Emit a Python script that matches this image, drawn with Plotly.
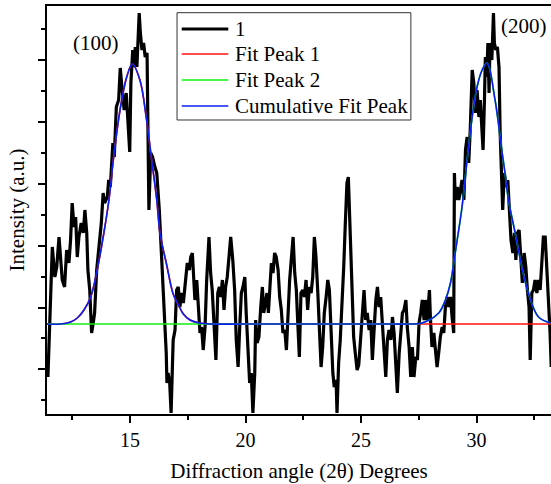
import plotly.graph_objects as go

# measured XRD pattern (2theta in degrees, intensity in arbitrary units)
angle = [
    11.45, 11.64, 11.75, 11.83, 11.93, 12.00, 12.07, 12.17, 12.26, 12.36,
    12.43, 12.50, 12.58, 12.65, 12.72, 12.79, 12.89, 12.98, 13.05, 13.13,
    13.18, 13.26, 13.30, 13.34, 13.41, 13.47, 13.56, 13.66, 13.76, 13.84,
    13.90, 14.02, 14.08, 14.15, 14.26, 14.32, 14.41, 14.51, 14.58, 14.65,
    14.75, 14.84, 14.91, 14.99, 15.04, 15.12, 15.19, 15.23, 15.30, 15.35,
    15.40, 15.45, 15.52, 15.59, 15.66, 15.74, 15.79, 15.82, 15.90, 15.98,
    16.08, 16.16, 16.27, 16.36, 16.43, 16.49, 16.57, 16.60, 16.65, 16.72,
    16.78, 16.87, 16.95, 17.02, 17.09, 17.16, 17.24, 17.31, 17.38, 17.48,
    17.57, 17.63, 17.70, 17.74, 17.81, 17.89, 17.96, 18.03, 18.10, 18.17,
    18.25, 18.32, 18.42, 18.49, 18.56, 18.65, 18.72, 18.80, 18.87, 18.93,
    19.00, 19.07, 19.14, 19.21, 19.30, 19.36, 19.45, 19.53, 19.60, 19.68,
    19.75, 19.82, 19.89, 19.97, 20.03, 20.11, 20.18, 20.25, 20.32, 20.40,
    20.44, 20.50, 20.58, 20.66, 20.73, 20.79, 20.86, 20.93, 20.99, 21.05,
    21.12, 21.19, 21.26, 21.33, 21.41, 21.48, 21.55, 21.62, 21.70, 21.77,
    21.84, 21.91, 21.98, 22.06, 22.13, 22.20, 22.27, 22.33, 22.40, 22.48,
    22.55, 22.62, 22.69, 22.76, 22.84, 22.91, 22.98, 23.05, 23.13, 23.20,
    23.27, 23.34, 23.41, 23.49, 23.56, 23.63, 23.70, 23.78, 23.84, 23.92,
    23.96, 24.03, 24.10, 24.18, 24.25, 24.32, 24.39, 24.45, 24.52, 24.61,
    24.68, 24.75, 24.83, 24.90, 24.99, 25.06, 25.13, 25.20, 25.27, 25.35,
    25.42, 25.49, 25.56, 25.64, 25.71, 25.78, 25.85, 25.92, 26.00, 26.07,
    26.14, 26.21, 26.29, 26.36, 26.43, 26.50, 26.57, 26.65, 26.72, 26.79,
    26.86, 26.94, 27.00, 27.08, 27.15, 27.22, 27.29, 27.37, 27.44, 27.51,
    27.58, 27.65, 27.73, 27.78, 27.86, 27.96, 28.00, 28.07, 28.15, 28.22,
    28.29, 28.36, 28.43, 28.51, 28.58, 28.65, 28.72, 28.80, 28.87, 28.94,
    29.01, 29.04, 29.08, 29.16, 29.23, 29.30, 29.37, 29.45, 29.52, 29.59,
    29.66, 29.73, 29.81, 29.88, 29.95, 30.02, 30.10, 30.16, 30.24, 30.28,
    30.34, 30.38, 30.44, 30.49, 30.54, 30.58, 30.66, 30.73, 30.77, 30.83,
    30.90, 30.97, 31.02, 31.09, 31.13, 31.20, 31.28, 31.35, 31.42, 31.49,
    31.57, 31.64, 31.70, 31.77, 31.84, 31.91, 31.98, 32.06, 32.13, 32.20,
    32.27, 32.32, 32.39, 32.46, 32.53, 32.61, 32.68, 32.75, 32.82, 32.89,
    32.97, 33.04, 33.11, 33.18, 33.23,
]
intensity = [
    54, 184, 154, 164, 194, 171, 151, 144, 181, 168,
    191, 228, 204, 214, 174, 194, 208, 198, 221, 198,
    161, 141, 118, 98, 108, 118, 161, 181, 208, 238,
    228, 234, 251, 244, 288, 274, 324, 331, 363, 344,
    321, 338, 314, 279, 348, 381, 364, 384, 364, 391,
    418, 398, 381, 388, 374, 378, 278, 221, 278, 274,
    264, 258, 221, 178, 148, 114, 78, 48, 58, 48,
    18, 91, 101, 141, 144, 124, 138, 128, 144, 168,
    161, 174, 178, 164, 131, 151, 124, 98, 104, 81,
    104, 151, 194, 158, 141, 108, 71, 138, 144, 134,
    151, 121, 144, 154, 181, 194, 171, 141, 91, 64,
    104, 138, 144, 154, 118, 78, 48, 58, 18, 58,
    111, 88, 94, 124, 144, 118, 131, 138, 118, 148,
    168, 158, 178, 174, 161, 134, 121, 98, 101, 81,
    118, 151, 171, 194, 158, 141, 104, 74, 138, 141,
    134, 151, 121, 144, 138, 154, 194, 174, 138, 98,
    64, 84, 118, 134, 151, 141, 91, 58, 44, 51,
    18, 68, 91, 124, 164, 208, 248, 254, 208, 144,
    94, 78, 61, 66, 98, 118, 141, 111, 118, 101,
    111, 71, 104, 131, 144, 124, 134, 104, 84, 54,
    91, 101, 91, 114, 98, 71, 38, 78, 94, 118,
    121, 131, 104, 84, 54, 84, 54, 74, 71, 108,
    118, 131, 111, 131, 111, 141, 114, 84, 98, 78,
    64, 78, 94, 104, 98, 124, 134, 124, 134, 114,
    98, 258, 231, 244, 231, 241, 251, 231, 281, 294,
    268, 304, 361, 348, 318, 341, 314, 331, 298, 281,
    331, 374, 354, 388, 338, 388, 371, 418, 388, 381,
    384, 364, 298, 258, 221, 258, 244, 251, 218, 191,
    178, 198, 171, 198, 201, 178, 148, 178, 164, 141,
    124, 71, 138, 141, 151, 138, 151, 141, 168, 194,
    194, 164, 124, 98, 64,
]

# fitted curves
fit_angle = [
    11.41, 12.00, 12.43, 12.72, 13.01, 13.30, 13.58, 13.87, 14.09, 14.28,
    14.57, 14.86, 15.10, 15.43, 15.72, 15.94, 16.16, 16.30, 16.59, 16.87,
    17.10, 17.31, 17.60, 18.00, 18.50, 20.00, 22.00, 24.00, 26.00, 27.00,
    27.64, 28.36, 28.65, 28.87, 29.01, 29.16, 29.37, 29.59, 29.81, 30.02,
    30.24, 30.45, 30.80, 31.09, 31.23, 31.38, 31.67, 31.96, 32.24, 32.68,
    33.22,
]
fit_peak1 = [
    107, 107, 109, 113, 121, 134, 161, 198, 231, 271,
    321, 354, 367, 351, 311, 271, 231, 198, 166, 137,
    126, 117, 111, 108, 107, 107, 107, 107, 107, 107,
    107, 107, 107, 107, 107, 107, 107, 107, 107, 107,
    107, 107, 107, 107, 107, 107, 107, 107, 107, 107,
    107,
]
fit_peak2 = [
    107, 107, 107, 107, 107, 107, 107, 107, 107, 107,
    107, 107, 107, 107, 107, 107, 107, 107, 107, 107,
    107, 107, 107, 107, 107, 107, 107, 107, 107, 107,
    108, 118, 131, 148, 168, 191, 224, 271, 314, 344,
    361, 368, 331, 281, 258, 231, 198, 164, 138, 114,
    108,
]
fit_cumulative = [
    107, 107, 109, 113, 121, 134, 161, 198, 231, 271,
    321, 354, 367, 351, 311, 271, 231, 198, 166, 137,
    126, 117, 111, 108, 107, 107, 107, 107, 107, 107,
    108, 118, 131, 148, 168, 191, 224, 271, 314, 344,
    361, 368, 331, 281, 258, 231, 198, 164, 138, 114,
    108,
]

series_names = ["1", "Fit Peak 1", "Fit Peak 2", "Cumulative Fit Peak"]
peak_labels = ["(100)", "(200)"]
peak_label_pos = [(13.53, 388), (32.06, 405)]

FONT = "Liberation Serif, Times New Roman, serif"
colors = ["black", "#ff1010", "#10f010", "#0a1ef0"]
widths = [3.2, 1.6, 1.6, 1.6]

fig = go.Figure()
fig.add_trace(go.Scatter(x=angle, y=intensity, mode="lines", name=series_names[0],
                         line=dict(color=colors[0], width=widths[0]), showlegend=False))
for name, ys, c, w in zip(series_names[1:], [fit_peak1, fit_peak2, fit_cumulative], colors[1:], widths[1:]):
    fig.add_trace(go.Scatter(x=fit_angle, y=ys, mode="lines", name=name,
                             line=dict(color=c, width=w, shape="spline"), showlegend=False))

for label, (px_, py_) in zip(peak_labels, peak_label_pos):
    fig.add_annotation(x=px_, y=py_, text=label, showarrow=False,
                       font=dict(family=FONT, size=21, color="black"))

# legend box drawn by hand so its rows are as tight as the original's
fig.add_shape(type="rect", xref="paper", yref="paper", x0=0.258, x1=0.722, y0=0.7206, y1=0.9836,
              line=dict(color="#333333", width=1), fillcolor="white", layer="above")
row_y = [0.9436, 0.8824, 0.8186, 0.7549]
for name, c, w, ry in zip(series_names, colors, widths, row_y):
    fig.add_shape(type="line", xref="paper", yref="paper", x0=0.2673, x1=0.3597, y0=ry, y1=ry,
                  line=dict(color=c, width=w), layer="above")
    fig.add_annotation(xref="paper", yref="paper", x=0.369, y=ry, text=name, showarrow=False,
                       xanchor="left", yanchor="middle",
                       font=dict(family=FONT, size=21, color="black"))

fig.update_xaxes(range=[11.41, 33.22], tick0=0, dtick=5, ticks="outside", ticklen=7,
                 tickwidth=1.5, tickcolor="black", showline=True, linecolor="black",
                 linewidth=1.5, mirror=True, showgrid=False, zeroline=False,
                 minor=dict(dtick=2.5, ticks="outside", ticklen=4, tickwidth=1.5, tickcolor="black"),
                 tickfont=dict(family=FONT, size=20, color="black"),
                 title=dict(text="Diffraction angle (2θ) Degrees", standoff=14,
                            font=dict(family=FONT, size=21, color="black")))
fig.update_yaxes(range=[17, 425], tick0=61.7, dtick=61.8, ticks="outside", ticklen=7,
                 tickwidth=1.5, tickcolor="black", showline=True, linecolor="black",
                 linewidth=1.5, showgrid=False, zeroline=False, showticklabels=False,
                 minor=dict(tick0=30.8, dtick=30.9, ticks="outside", ticklen=4, tickwidth=1.5, tickcolor="black"),
                 title=dict(text="Intensity (a.u.)", standoff=8,
                            font=dict(family=FONT, size=21, color="black")))

fig.update_layout(
    width=551,
    height=484,
    margin=dict(l=47, r=0, t=6, b=70),
    plot_bgcolor="white",
    paper_bgcolor="white",
    font=dict(family=FONT, color="black"),
    showlegend=False,
)

fig.write_html("out.html", config={"displayModeBar": False},
               post_script="document.body.style.margin='0';document.body.style.padding='0';")
